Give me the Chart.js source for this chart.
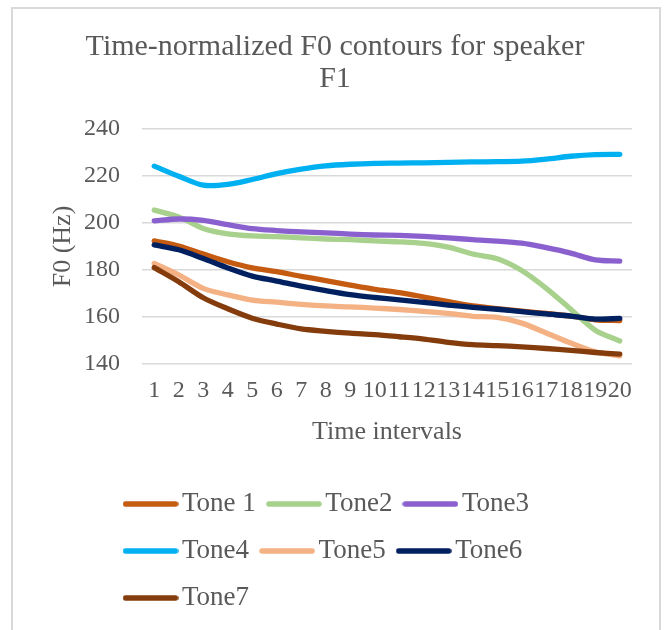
<!DOCTYPE html>
<html><head><meta charset="utf-8">
<script src="https://cdn.jsdelivr.net/npm/chart.js@4"></script>
<style>
html,body{margin:0;padding:0;background:#fff;}
#wrap{position:relative;width:665px;height:630px;overflow:hidden;}
#frame{position:absolute;left:11px;top:7px;width:650px;height:660px;border:2px solid #d9d9d9;box-sizing:border-box;pointer-events:none;}
canvas{position:absolute;left:0;top:0;}
</style></head><body>
<div id="wrap"><canvas id="c" width="665" height="630"></canvas><div id="frame"></div></div>
<script>
const categories = ['1','2','3','4','5','6','7','8','9','10','11','12','13','14','15','16','17','18','19','20'];
const seriesNames = ['Tone 1','Tone2','Tone3','Tone4','Tone5','Tone6','Tone7'];
const tone1 = [192.4,190.2,186.8,183.5,180.9,179.3,177.3,175.5,173.6,171.8,170.4,168.5,166.5,164.7,163.6,162.5,161.5,160.4,158.8,158.5];
const tone2 = [205.5,202.6,197.7,195.4,194.5,194.2,193.7,193.2,192.9,192.4,192.0,191.3,189.7,186.8,184.8,179.8,172.2,163.3,154.4,149.8];
const tone3 = [200.9,201.7,201.1,199.3,197.6,196.8,196.2,195.8,195.3,194.9,194.7,194.3,193.7,192.9,192.3,191.4,189.5,187.2,184.3,183.8];
const tone4 = [224.2,219.9,216.1,216.4,218.5,221.0,222.9,224.3,225.0,225.4,225.5,225.6,225.8,226.0,226.1,226.3,227.2,228.4,229.1,229.2];
const tone5 = [182.8,177.9,172.2,169.4,167.2,166.3,165.4,164.7,164.3,163.8,163.2,162.4,161.5,160.3,159.8,157.4,153.2,148.9,145.2,143.5];
const tone6 = [190.7,188.6,184.9,180.9,177.4,175.3,173.1,171.2,169.5,168.3,167.3,166.2,165.1,164.1,163.3,162.3,161.3,160.4,159.1,159.4];
const tone7 = [181.0,175.0,168.2,163.5,159.5,157.0,154.9,153.9,153.1,152.5,151.6,150.6,149.2,148.2,147.8,147.3,146.6,145.8,144.9,144.2];
const seriesColors = ['#C55A11','#A9D18E','#8A60CF','#00B0F0','#F4B183','#002060','#843C0C'];
const yTicks = {min:140, max:240, step:20};
const titleLines = ['Time-normalized F0 contours for speaker','F1'];
const xTitle = 'Time intervals';
const yTitle = 'F0 (Hz)';

const allSeries = [tone1,tone2,tone3,tone4,tone5,tone6,tone7];
const FONT = '"Liberation Serif","Times New Roman",serif';
const TXT = '#595959';

function swatch(color){
  const c = document.createElement('canvas');
  c.width = 56; c.height = 8;
  const x = c.getContext('2d');
  x.strokeStyle = color; x.lineWidth = 5.5; x.lineCap = 'round';
  x.beginPath(); x.moveTo(3,4); x.lineTo(53,4); x.stroke();
  return c;
}

const placer = {
  id:'placer',
  afterLayout(chart){
    if (chart.legend){ chart.legend.left = 112.5; chart.legend.right = 612.5; }
    if (chart.titleBlock){ chart.titleBlock.left = 25; chart.titleBlock.right = 645; }
  }
};

function draw(){
  Chart.defaults.font.family = FONT;
  Chart.defaults.color = TXT;
  new Chart(document.getElementById('c'), {
    type:'line',
    data:{
      labels:categories,
      datasets: allSeries.map((d,i)=>({
        label:seriesNames[i], data:d,
        borderColor:seriesColors[i], backgroundColor:seriesColors[i],
        borderWidth:5.3, pointRadius:0, pointHoverRadius:0,
        tension:0.3, borderCapStyle:'round', borderJoinStyle:'round',
        fill:false, order:6-i
      }))
    },
    options:{
      responsive:false, animation:false, devicePixelRatio:1,
      layout:{padding:{left:12,right:33,top:0,bottom:8.5}},
      plugins:{
        title:{display:true, text:titleLines, color:TXT,
          font:{family:FONT,size:30,weight:'normal',lineHeight:32/30},
          padding:{top:31.5,bottom:33.5}},
        legend:{display:true, position:'bottom', align:'start', fullSize:false,
          labels:{color:TXT, font:{family:FONT,size:27}, usePointStyle:true, pointStyleWidth:36, padding:20,
            sort:(a,b)=>a.datasetIndex-b.datasetIndex,
            generateLabels(chart){
              const items = Chart.defaults.plugins.legend.labels.generateLabels(chart);
              items.forEach(it=>{ it.pointStyle = swatch(it.strokeStyle); });
              return items;
            }}},
        tooltip:{enabled:false}
      },
      scales:{
        x:{type:'category', offset:true,
          grid:{display:false, drawTicks:false}, border:{display:false},
          ticks:{autoSkip:false, maxRotation:0, minRotation:0, padding:12.6, color:TXT, font:{family:FONT,size:24}},
          title:{display:true, text:xTitle, color:TXT, font:{family:FONT,size:26}, padding:{top:-1.6,bottom:22.9}}
        },
        y:{min:yTicks.min, max:yTicks.max,
          grid:{color:'#d9d9d9', lineWidth:1.5, drawTicks:false}, border:{display:false},
          ticks:{stepSize:yTicks.step, padding:22, color:TXT, font:{family:FONT,size:24}},
          title:{display:true, text:yTitle, color:TXT, font:{family:FONT,size:26}, padding:{top:35.4,bottom:-16.6}}
        }
      }
    },
    plugins:[placer]
  });
}
if (document.fonts && document.fonts.load){
  document.fonts.load('24px "Liberation Serif"').then(draw, draw);
} else draw();
</script>
</body></html>
